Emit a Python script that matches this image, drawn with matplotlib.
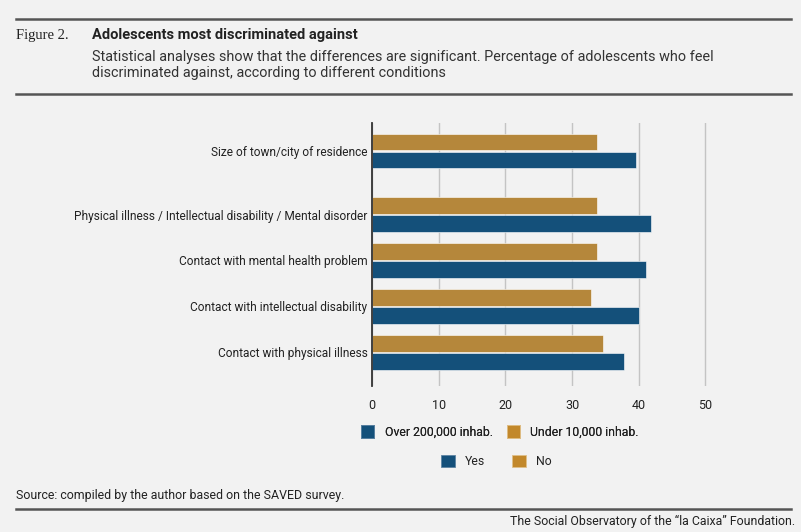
import matplotlib
matplotlib.use("Agg")
import matplotlib.pyplot as plt
from matplotlib.patches import Patch
from matplotlib.lines import Line2D

# chart data
categories = [
    "Size of town/city of residence",
    "Physical illness / Intellectual disability / Mental disorder",
    "Contact with mental health problem",
    "Contact with intellectual disability",
    "Contact with physical illness",
]
blue_values = [39.6, 41.8, 41.1, 40.1, 37.8]   # Over 200,000 inhab. / Yes
gold_values = [33.7, 33.7, 33.7, 32.8, 34.6]   # Under 10,000 inhab. / No
x_ticks = [0, 10, 20, 30, 40, 50]

BG = "#f2f2f2"
BLUE = "#14507a"
GOLD = "#b5873b"
GOLD_LEG = "#c2882b"
TXT = "#222222"
RULE = "#555555"

plt.rcParams["font.family"] = ["Roboto", "DejaVu Sans"]

fig = plt.figure(figsize=(8.01, 5.32), dpi=100, facecolor=BG)
ax = fig.add_axes([0.4648, 0.2744, 0.4323, 0.4944], facecolor=BG)

# group centres: the first group sits a bit apart from the others
pos = [4.38, 3, 2, 1, 0]
h = 0.36
off = 0.196
ax.barh([p - off for p in pos], blue_values, height=h, color=BLUE,
        edgecolor="#ffffff", linewidth=0.4, zorder=3)
ax.barh([p + off for p in pos], gold_values, height=h, color=GOLD,
        edgecolor="#ffffff", linewidth=0.4, zorder=3)

ax.set_xlim(0, 52)
ax.set_ylim(-0.73, 4.99)
ax.set_xticks(x_ticks)
ax.set_xticklabels([str(t) for t in x_ticks], fontsize=9, color=TXT)
ax.set_yticks(pos)
ax.set_yticklabels(categories, fontsize=8.6, color=TXT)
ax.tick_params(axis="y", length=0, pad=3.5)
ax.tick_params(axis="x", length=0, pad=9)
for lab in ax.get_yticklabels():
    lab.set_va("center_baseline")
ax.grid(axis="x", color="#c4c4c4", linewidth=1, zorder=0)
for s in ["top", "right", "bottom"]:
    ax.spines[s].set_visible(False)
ax.spines["left"].set_color("#333333")
ax.spines["left"].set_linewidth(1.3)
ax.spines["left"].set_zorder(4)

# legends
leg_kw = dict(loc="center", ncol=2, frameon=False, fontsize=8.8,
              handlelength=1.1, handleheight=1.2, handletextpad=0.85,
              labelcolor=TXT)
leg1 = fig.legend(
    handles=[Patch(facecolor=BLUE, edgecolor="#5d84a3", linewidth=0.6),
             Patch(facecolor=GOLD_LEG, edgecolor="#e0c08a", linewidth=0.6)],
    labels=["Over 200,000 inhab.", "Under 10,000 inhab."],
    bbox_to_anchor=(0.624, 0.188), columnspacing=1.15, **leg_kw)
leg2 = fig.legend(
    handles=[Patch(facecolor=BLUE, edgecolor="#5d84a3", linewidth=0.6),
             Patch(facecolor=GOLD_LEG, edgecolor="#e0c08a", linewidth=0.6)],
    labels=["Yes", "No"],
    bbox_to_anchor=(0.62, 0.133), columnspacing=2.2, **leg_kw)
fig.add_artist(leg1)

# header
W, H = 801, 532
def fx(x):
    return x / W
def fy(y):
    return 1 - y / H

for y in [19, 94, 509]:
    fig.add_artist(Line2D([fx(16), fx(791)], [fy(y), fy(y)], color=RULE,
                          linewidth=1.8))

fig.text(fx(16), fy(35), "Figure 2.", family=["Liberation Serif", "DejaVu Serif"],
         fontsize=10.5, color=TXT, va="center", ha="left")
fig.text(fx(92), fy(35), "Adolescents most discriminated against",
         weight="bold", fontsize=10.5, color=TXT, va="center", ha="left")
fig.text(fx(92), fy(57),
         "Statistical analyses show that the differences are significant. "
         "Percentage of adolescents who feel",
         fontsize=10.4, color="#333333", va="center", ha="left")
fig.text(fx(92), fy(73), "discriminated against, according to different conditions",
         fontsize=10.4, color="#333333", va="center", ha="left")

# footer
fig.text(fx(16), fy(496), "Source: compiled by the author based on the SAVED survey.",
         fontsize=8.9, color=TXT, va="center", ha="left")
fig.text(fx(795), fy(521), "The Social Observatory of the \u201cla Caixa\u201d Foundation.",
         fontsize=8.9, color=TXT, va="center", ha="right")

fig.savefig("out.png", dpi=100, facecolor=BG)
